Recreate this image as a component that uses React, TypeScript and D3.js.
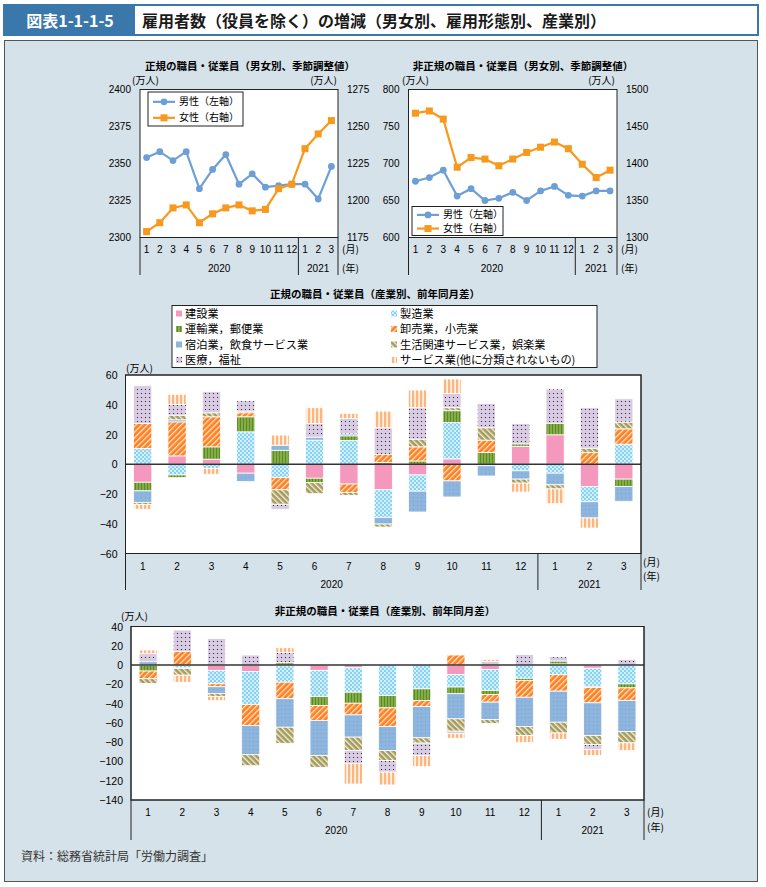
import React from 'react';
import * as d3 from 'd3';

// ---- data ----
const months = ['1', '2', '3', '4', '5', '6', '7', '8', '9', '10', '11', '12', '1', '2', '3'];
const years = ['2020', '2021'];

// 正規 (男女別, 季節調整値)
const regMale = [2354, 2358, 2352, 2358, 2333, 2346, 2356, 2336, 2343, 2334, 2335, 2336, 2336, 2326, 2348];
const regFemale = [1179, 1185, 1195, 1197, 1185, 1191, 1195, 1197, 1193, 1194, 1208, 1211, 1235, 1245, 1254];
// 非正規 (男女別, 季節調整値)
const nonMale = [676, 681, 691, 656, 666, 650, 653, 661, 650, 663, 669, 657, 656, 663, 663];
const nonFemale = [1468, 1471, 1460, 1395, 1408, 1406, 1397, 1406, 1415, 1422, 1429, 1420, 1399, 1381, 1391];

const industries = [
  '建設業', '製造業', '運輸業，郵便業', '卸売業，小売業',
  '宿泊業，飲食サービス業', '生活関連サービス業，娯楽業', '医療，福祉', 'サービス業(他に分類されないもの)',
];

// 正規 (産業別, 前年同月差)
const regKensetsu = [-12.1, 5.6, 3.4, -6, 0, -9.4, -13.3, -17.2, -7.2, 3.6, 0, 12.1, 19.8, -14.9, -10];
const regSeizo = [10.6, -7.2, -2.9, 21.8, -8.9, 16.2, 16, -18.5, -10.9, 24.5, -1, -4.4, -6, -10.3, 13.5];
const regUnyu = [-5.8, -1.8, 8.3, 10.1, 9.4, -3, 3.1, 1.1, 2.2, 7.9, 7.9, 1.6, 7.8, 0, -4.9];
const regOroshi = [16.8, 22.9, 20.2, 2.7, -8.3, 0, -5.6, 5.4, 9.5, -11.2, 8.3, 0, 0, 7.8, 10.3];
const regShukuhaku = [-7.7, 1.4, 0, -5.7, 3.4, 2, 1.3, -4.5, -14, -10.8, -6.9, -5.6, -7.8, -10.9, -10];
const regSeikatsu = [-1.4, 3.1, 2.7, 1.1, -9.7, -7.4, -2, -2, 5.2, 2, 8.3, -2.7, -2.8, 3, 4.5];
const regIryo = [25.4, 7.2, 14.2, 7, -3.4, 9.2, 10.4, 18, 21.1, 9.6, 16.4, 13.7, 23, 27.2, 15.7];
const regService = [-3.3, 6.8, -3.8, 0, 6.8, 10.6, 3.4, 11.2, 11.9, 9.7, 0, -6, -9.9, -6.8, 0];

// 非正規 (産業別, 前年同月差)
const nonKensetsu = [0, 0, -5.5, -6.6, -0.8, -5.5, -2.8, 0, 0, -9.9, -4.7, 0, 1.2, -3.3, 0];
const nonSeizo = [0, -3, -13.9, -34.4, -17, -27.2, -25.4, -31.6, -24.7, -12.9, -21.7, -13.7, -10, -18.8, -19.5];
const nonUnyu = [-6.2, 0, 0, 0, 2.4, -9.3, -11.4, -12.8, -12.1, -6.9, -4.2, -2.2, 3, -1.1, -4.2];
const nonOroshi = [-8, 14.2, -3.1, -21.7, -17.1, -15.4, -12.1, -19.4, -6.1, 10.4, -7.9, -17.5, -17.1, -16, -13.1];
const nonShukuhaku = [3.5, -0.6, -6.9, -30.3, -29.6, -36.3, -23.1, -24.9, -32.6, -26.1, -18, -30.4, -32.2, -33.9, -32.2];
const nonSeikatsu = [-4.8, -6.9, -3.1, -11.4, -16.7, -12.4, -13.9, -10.3, -5.5, -12.8, -4, -9.3, -11.2, -9.3, -11.7];
const nonIryo = [8.3, 22.1, 27.6, 10.4, 10.7, 0, -13.3, -12.1, -12.8, -2.6, 3.8, 11, 4.4, -5.2, 5.9];
const nonService = [3.8, -7.4, -4.5, 0, 4.9, 0, -21.4, -13.3, -11.6, -4.8, 2.1, -7.4, -6.5, -6.4, -8.1];

const regSeries = [regKensetsu, regSeizo, regUnyu, regOroshi, regShukuhaku, regSeikatsu, regIryo, regService];
const nonSeries = [nonKensetsu, nonSeizo, nonUnyu, nonOroshi, nonShukuhaku, nonSeikatsu, nonIryo, nonService];

const fills = ['#f598bd', 'url(#p-seizo)', 'url(#p-unyu)', 'url(#p-oroshi)', 'url(#p-shuku)', 'url(#p-seikatsu)', 'url(#p-iryo)', 'url(#p-service)'];

const JP = '"Noto Sans CJK JP", "Noto Sans", sans-serif';
const NUM = '"Liberation Sans", Arial, sans-serif';
const MALE = '#6d9fd6';
const FEMALE = '#f8981d';

const Patterns = () => (
  <defs>
    <pattern id="p-seizo" width="4" height="4" patternUnits="userSpaceOnUse">
      <rect width="4" height="4" fill="#86d2f3" />
      <rect width="2" height="2" fill="#d6f0fb" />
      <rect x="2" y="2" width="2" height="2" fill="#d6f0fb" />
    </pattern>
    <pattern id="p-unyu" width="3" height="3" patternUnits="userSpaceOnUse">
      <rect width="3" height="3" fill="#84ad48" />
      <rect width="1" height="3" fill="#5d8a28" />
    </pattern>
    <pattern id="p-oroshi" width="4" height="4" patternUnits="userSpaceOnUse" patternTransform="rotate(45)">
      <rect width="4" height="4" fill="#ff8021" />
      <rect width="1.3" height="4" fill="#ffe2c9" />
    </pattern>
    <pattern id="p-shuku" width="4" height="4" patternUnits="userSpaceOnUse">
      <rect width="4" height="4" fill="#8db5dd" />
      <rect x="1" y="1" width="1" height="1" fill="#7aa3cf" />
    </pattern>
    <pattern id="p-seikatsu" width="4" height="4" patternUnits="userSpaceOnUse" patternTransform="rotate(-45)">
      <rect width="4" height="4" fill="#a39a5c" />
      <rect width="1.4" height="4" fill="#f0eddc" />
    </pattern>
    <pattern id="p-iryo" width="4" height="4" patternUnits="userSpaceOnUse">
      <rect width="4" height="4" fill="#d9cae3" />
      <rect x="1" y="1" width="1" height="1" fill="#2a2a2a" />
    </pattern>
    <pattern id="p-service" width="4" height="4" patternUnits="userSpaceOnUse">
      <rect width="4" height="4" fill="#fff3e8" />
      <rect width="2.2" height="4" fill="#fdb57c" />
    </pattern>
  </defs>
);

interface LineProps {
  title: string;
  titleX: number;
  left: number; right: number; top: number; bottom: number;
  lDomain: [number, number]; rDomain: [number, number]; step: number; rStep: number;
  male: number[]; female: number[];
  legend: { x: number; y: number; w: number; h: number };
  unitL: number; unitR: number; monthX: number;
}

const LineChart = (p: LineProps) => {
  const x = d3.scaleBand<number>().domain(d3.range(months.length)).range([p.left, p.right]);
  const cx = (i: number) => (x(i) as number) + x.bandwidth() / 2;
  const yl = d3.scaleLinear().domain(p.lDomain).range([p.bottom, p.top]);
  const yr = d3.scaleLinear().domain(p.rDomain).range([p.bottom, p.top]);
  const lTicks = d3.range(p.lDomain[0], p.lDomain[1] + 1, p.step);
  const rTicks = d3.range(p.rDomain[0], p.rDomain[1] + 1, p.rStep);
  const lineL = d3.line<number>().x((_, i) => cx(i)).y(d => yl(d));
  const lineR = d3.line<number>().x((_, i) => cx(i)).y(d => yr(d));
  const sep = x(12) as number;
  const lg = p.legend;
  return (
    <g>
      <text x={p.titleX} y={70} textAnchor="middle" fontFamily={JP} fontSize={10.5} fontWeight="bold">{p.title}</text>
      <text x={p.unitL} y={84} fontFamily={JP} fontSize={10}>(万人)</text>
      <text x={p.unitR} y={84} fontFamily={JP} fontSize={10} textAnchor="end">(万人)</text>
      <rect x={p.left} y={p.top} width={p.right - p.left} height={p.bottom - p.top} fill="#fff" stroke="#222" strokeWidth={1} />
      {lTicks.map(t => (
        <text key={'l' + t} x={p.left - 9} y={yl(t) + 3.5} textAnchor="end" fontFamily={NUM} fontSize={10}>{t}</text>
      ))}
      {rTicks.map(t => (
        <text key={'r' + t} x={p.right + 9} y={yr(t) + 3.5} fontFamily={NUM} fontSize={10}>{t}</text>
      ))}
      {months.map((m, i) => (
        <text key={i} x={cx(i)} y={253} textAnchor="middle" fontFamily={NUM} fontSize={10}>{m}</text>
      ))}
      <line x1={p.left} x2={p.left} y1={p.bottom} y2={275} stroke="#222" />
      <line x1={sep} x2={sep} y1={p.bottom} y2={275} stroke="#222" />
      <line x1={p.right} x2={p.right} y1={p.bottom} y2={275} stroke="#222" />
      <text x={(p.left + sep) / 2} y={272} textAnchor="middle" fontFamily={NUM} fontSize={10}>{years[0]}</text>
      <text x={(sep + p.right) / 2} y={272} textAnchor="middle" fontFamily={NUM} fontSize={10}>{years[1]}</text>
      <text x={p.monthX} y={253} fontFamily={JP} fontSize={10}>(月)</text>
      <text x={p.monthX} y={272} fontFamily={JP} fontSize={10}>(年)</text>
      <path d={lineL(p.male) as string} fill="none" stroke={MALE} strokeWidth={2.2} />
      {p.male.map((d, i) => <circle key={i} cx={cx(i)} cy={yl(d)} r={3.4} fill={MALE} />)}
      <path d={lineR(p.female) as string} fill="none" stroke={FEMALE} strokeWidth={2.2} />
      {p.female.map((d, i) => <rect key={i} x={cx(i) - 3.5} y={yr(d) - 3.5} width={7} height={7} fill={FEMALE} />)}
      <rect x={lg.x} y={lg.y} width={lg.w} height={lg.h} fill="#fff" stroke="#222" />
      <line x1={lg.x + 5} x2={lg.x + 27} y1={lg.y + lg.h * 0.29} y2={lg.y + lg.h * 0.29} stroke={MALE} strokeWidth={2.2} />
      <circle cx={lg.x + 16} cy={lg.y + lg.h * 0.29} r={3.4} fill={MALE} />
      <text x={lg.x + 31} y={lg.y + lg.h * 0.29 + 3.5} fontFamily={JP} fontSize={10}>男性（左軸）</text>
      <line x1={lg.x + 5} x2={lg.x + 27} y1={lg.y + lg.h * 0.76} y2={lg.y + lg.h * 0.76} stroke={FEMALE} strokeWidth={2.2} />
      <rect x={lg.x + 12.5} y={lg.y + lg.h * 0.76 - 3.5} width={7} height={7} fill={FEMALE} />
      <text x={lg.x + 31} y={lg.y + lg.h * 0.76 + 3.5} fontFamily={JP} fontSize={10}>女性（右軸）</text>
    </g>
  );
};

interface StackProps {
  series: number[][];
  title: string; titleX: number; titleY: number;
  left: number; right: number; top: number; bottom: number;
  domain: [number, number]; step: number;
  axisBottom: number; monthY: number; yearY: number;
  unitX: number; unitY: number; monthX: number; monthLblY: number; yearLblY: number;
}

const StackChart = (p: StackProps) => {
  const rows = months.map((_, i) => {
    const r: Record<string, number> = {};
    p.series.forEach((s, k) => { r['k' + k] = s[i]; });
    return r;
  });
  const keys = p.series.map((_, k) => 'k' + k);
  const stacked = d3.stack<Record<string, number>>().keys(keys).offset(d3.stackOffsetDiverging)(rows);
  const x = d3.scaleBand<number>().domain(d3.range(months.length)).range([p.left, p.right]).paddingInner(0.47).paddingOuter(0.235);
  const y = d3.scaleLinear().domain(p.domain).range([p.bottom, p.top]);
  const ticks = d3.range(p.domain[0], p.domain[1] + 1, p.step);
  const band = d3.scaleBand<number>().domain(d3.range(months.length)).range([p.left, p.right]);
  const sep = band(12) as number;
  return (
    <g>
      {p.title ? <text x={p.titleX} y={p.titleY} textAnchor="middle" fontFamily={JP} fontSize={10.5} fontWeight="bold">{p.title}</text> : null}
      <text x={p.unitX} y={p.unitY} fontFamily={JP} fontSize={10}>(万人)</text>
      <rect x={p.left} y={p.top} width={p.right - p.left} height={p.bottom - p.top} fill="#fff" stroke="#222" />
      {ticks.map(t => (
        <text key={t} x={p.left - 8} y={y(t) + 4} textAnchor="end" fontFamily={NUM} fontSize={10.5}>{t < 0 ? '−' + Math.abs(t) : t}</text>
      ))}
      {stacked.map((s, k) => (
        <g key={k} fill={fills[k]}>
          {s.map((d, i) => (d[1] - d[0] > 0 ? (
            <rect key={i} x={x(i)} width={x.bandwidth()} y={y(d[1])} height={y(d[0]) - y(d[1])} stroke="#fff" strokeWidth={0.8} />
          ) : null))}
        </g>
      ))}
      <line x1={p.left} x2={p.right} y1={y(0)} y2={y(0)} stroke="#333" strokeWidth={1.5} />
      <rect x={p.left} y={p.top} width={p.right - p.left} height={p.bottom - p.top} fill="none" stroke="#222" />
      {months.map((m, i) => (
        <text key={i} x={(band(i) as number) + band.bandwidth() / 2} y={p.monthY} textAnchor="middle" fontFamily={NUM} fontSize={10}>{m}</text>
      ))}
      <line x1={p.left} x2={p.left} y1={p.bottom} y2={p.axisBottom} stroke="#222" />
      <line x1={sep} x2={sep} y1={p.bottom} y2={p.axisBottom} stroke="#222" />
      <line x1={p.right} x2={p.right} y1={p.bottom} y2={p.axisBottom} stroke="#222" />
      <text x={(p.left + sep) / 2} y={p.yearY} textAnchor="middle" fontFamily={NUM} fontSize={10}>{years[0]}</text>
      <text x={(sep + p.right) / 2} y={p.yearY} textAnchor="middle" fontFamily={NUM} fontSize={10}>{years[1]}</text>
      <text x={p.monthX} y={p.monthLblY} fontFamily={JP} fontSize={10}>(月)</text>
      <text x={p.monthX} y={p.yearLblY} fontFamily={JP} fontSize={10}>(年)</text>
    </g>
  );
};

const Legend = () => {
  const rowsY = [313.5, 329, 344.5, 360];
  return (
    <g>
      <rect x={172} y={305.5} width={425} height={62} fill="#fff" stroke="#222" />
      {industries.map((name, k) => {
        const col = k % 2;
        const row = Math.floor(k / 2);
        const sx = col === 0 ? 176 : 391;
        const cy = rowsY[row];
        return (
          <g key={k}>
            <rect x={sx} y={cy - 3} width={6} height={6} fill={fills[k]} />
            <text x={sx + 9} y={cy + 4} fontFamily={JP} fontSize={11.2}>{name}</text>
          </g>
        );
      })}
    </g>
  );
};

export default function App() {
  return (
    <svg width={766} height={887} style={{ position: 'absolute', left: 0, top: 0, background: '#fff' }}>
      <Patterns />
      {/* title bar */}
      <rect x={4} y={5} width={754} height={30} fill="#fff" stroke="#3a77ab" strokeWidth={2} />
      <rect x={4} y={5} width={131} height={30} fill="#3a77ab" />
      <text x={70} y={26.5} textAnchor="middle" fill="#fff" fontFamily={JP} fontSize={16} fontWeight="bold">図表1-1-1-5</text>
      <text x={142} y={26.5} fill="#1a1a1a" fontFamily={JP} fontSize={16} fontWeight="bold">雇用者数（役員を除く）の増減（男女別、雇用形態別、産業別）</text>
      {/* panel */}
      <rect x={4.5} y={40.5} width={753} height={841} fill="#d6e2e9" stroke="#555" />

      <LineChart
        title="正規の職員・従業員（男女別、季節調整値）" titleX={250}
        left={140} right={338} top={89.5} bottom={237.5}
        lDomain={[2300, 2400]} rDomain={[1175, 1275]} step={25} rStep={25}
        male={regMale} female={regFemale}
        legend={{ x: 148, y: 92, w: 95, h: 34 }}
        unitL={132} unitR={337} monthX={342}
      />
      <LineChart
        title="非正規の職員・従業員（男女別、季節調整値）" titleX={523}
        left={408.5} right={617} top={89.5} bottom={237.5}
        lDomain={[600, 800]} rDomain={[1300, 1500]} step={50} rStep={50}
        male={nonMale} female={nonFemale}
        legend={{ x: 412, y: 206.5, w: 91, h: 29 }}
        unitL={402} unitR={615} monthX={621}
      />

      <text x={375} y={298} textAnchor="middle" fontFamily={JP} fontSize={10.5} fontWeight="bold">正規の職員・従業員（産業別、前年同月差）</text>
      <Legend />
      <StackChart
        series={regSeries} title="" titleX={375} titleY={299}
        left={125.5} right={641} top={375} bottom={553.5}
        domain={[-60, 60]} step={20}
        axisBottom={590} monthY={570} yearY={588}
        unitX={126} unitY={372} monthX={643} monthLblY={566} yearLblY={580}
      />
      <StackChart
        series={nonSeries} title="非正規の職員・従業員（産業別、前年同月差）" titleX={385} titleY={615}
        left={131} right={644} top={626.5} bottom={800}
        domain={[-140, 40]} step={20}
        axisBottom={840} monthY={816} yearY={834}
        unitX={121} unitY={620} monthX={647} monthLblY={816} yearLblY={831}
      />

      <text x={21} y={861} fontFamily={JP} fontSize={12} fill="#333">資料：総務省統計局「労働力調査」</text>
    </svg>
  );
}
